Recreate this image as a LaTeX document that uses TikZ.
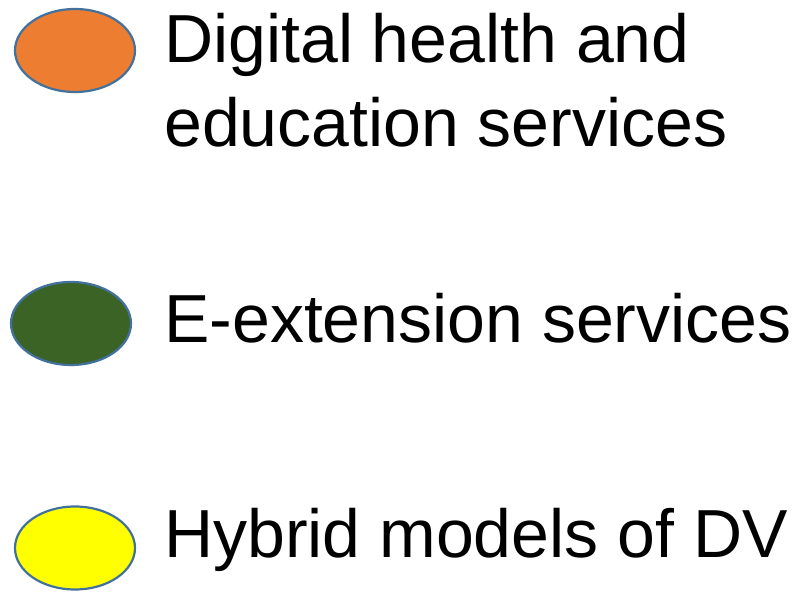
\documentclass[tikz,border=0pt]{standalone}
\usepackage{fontspec}
\setmainfont{Liberation Sans}
\usetikzlibrary{shapes.geometric}

\definecolor{keyorange}{HTML}{ED7D31}
\definecolor{keygreen}{HTML}{3B6326}
\definecolor{keyyellow}{HTML}{FFFF00}
\definecolor{keyedge}{HTML}{41719C}

\tikzstyle{key} = [ellipse, draw=keyedge, line width=2.2pt, minimum width=120pt, minimum height=83pt, inner sep=0pt]
\tikzstyle{legendtext} = [anchor=base west, align=left, inner sep=0pt, font=\fontsize{68}{84}\selectfont]

\begin{document}
\begin{tikzpicture}[x=1pt, y=-1pt]
    \useasboundingbox (0,0) rectangle (796,593);

    % Place nodes
    \node [key, fill=keyorange] (healthkey) at (75,50.5) {};
    \node [key, fill=keygreen] (extensionkey) at (71,323.5) {};
    \node [key, fill=keyyellow] (hybridkey) at (75,548) {};

    \node [legendtext] (health) at (164,147) {Digital health and\\education services};
    \node [legendtext] (extension) at (164,343) {E-extension services};
    \node [legendtext] (hybrid) at (164,558) {Hybrid models of DV};

\end{tikzpicture}
\end{document}
